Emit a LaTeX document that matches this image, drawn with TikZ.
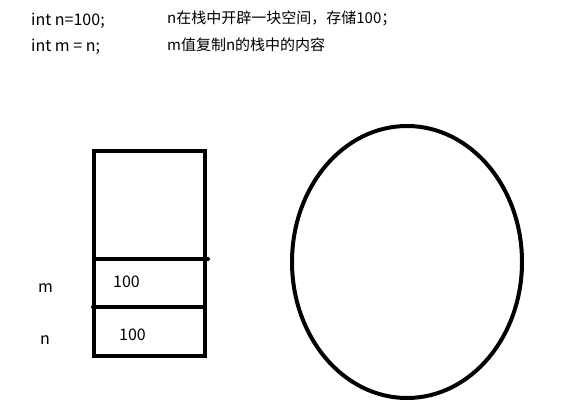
\documentclass[tikz,border=0pt]{standalone}
\usepackage{fontspec}
\setmainfont{Noto Sans CJK SC}
\begin{document}
\begin{tikzpicture}[x=1pt,y=-1pt,
  txt/.style={font=\fontsize{16}{18}\selectfont, inner sep=0pt, anchor=west},
  cjk/.style={font=\fontsize{15}{17}\selectfont, inner sep=0pt, anchor=west},
  thick line/.style={line width=4pt}]
\useasboundingbox (0,0) rectangle (586,415);
\fill[white] (0,0) rectangle (586,415);
\node[txt] (c1) at (31,21) {int n=100;};
\node[txt] (c2) at (31,47) {int m = n;};
\node[cjk] (d1) at (167,18) {n在栈中开辟一块空间，存储100；};
\node[cjk] (d2) at (167,45) {m值复制n的栈中的内容};
% stack box
\draw[thick line] (94,151) rectangle (205,356);
\draw[thick line, line cap=round] (94,259) -- (208,259);
\draw[thick line, line cap=round] (93,307) -- (205,307);
\node[txt] (mv) at (113,282) {100};
\node[txt] (nv) at (119,335) {100};
\node[txt] (ml) at (38,288) {m};
\node[txt] (nl) at (40,340) {n};
% heap
\draw[thick line] (407,262) ellipse [x radius=115, y radius=136];
\end{tikzpicture}
\end{document}
